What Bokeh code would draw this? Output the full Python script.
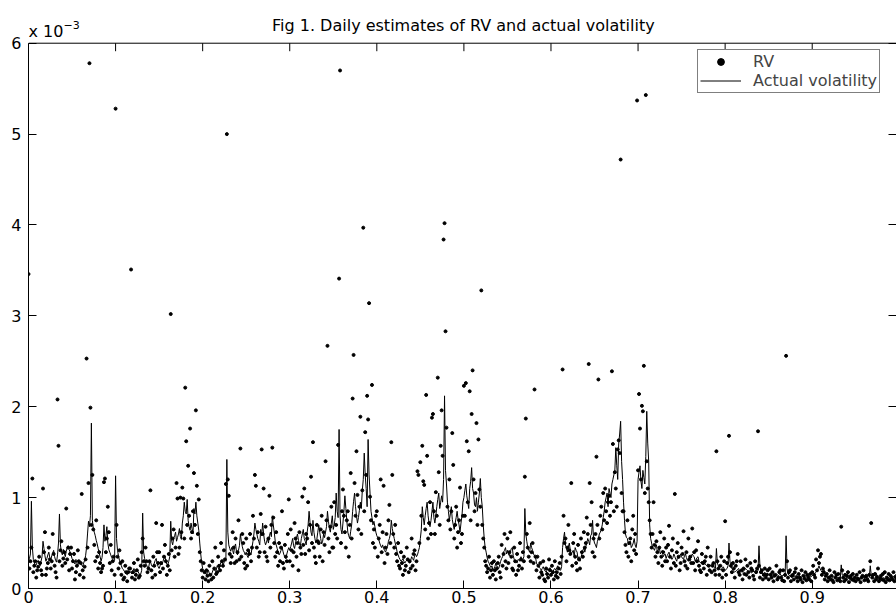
from bokeh.plotting import figure
from bokeh.models import (Range1d, LinearAxis, FixedTicker, Legend, Label, Span,
                          LegendItem, CustomJSTickFormatter)
from bokeh.embed import file_html
from bokeh.resources import INLINE

FONT = "DejaVu Sans"

# ---- data (values in units of 1e-3), one value per trading day ----
n_days = 900

actual_volatility = [
    .30,.33,.38,.96,.45,.32,.28,.25,.26,.29,.31,.27,.25,.30,.35,
    .52,.44,.36,.30,.33,.37,.40,.34,.31,.36,.39,.42,.35,.31,.29,
    .37,.50,.82,.48,.40,.37,.43,.39,.35,.41,.45,.47,.43,.40,.37,
    .33,.31,.29,.27,.32,.28,.25,.30,.27,.29,.26,.24,.28,.31,.36,
    .45,.60,.74,.68,.80,1.82,.75,.66,.62,.58,.53,.49,.44,.39,.35,
    .30,.34,.45,.70,.52,.58,.68,.50,.43,.40,.37,.34,.32,.30,.31,
    1.24,.55,.42,.36,.31,.28,.25,.22,.21,.19,.18,.16,.15,.17,.18,
    .19,.17,.16,.20,.22,.19,.18,.21,.19,.17,.15,.16,.20,.83,.40,
    .33,.28,.26,.23,.22,.28,.30,.26,.24,.25,.28,.31,.33,.27,.24,
    .22,.25,.28,.26,.30,.33,.36,.29,.27,.26,.30,.35,.74,.52,.48,
    .55,.58,.62,.52,.56,.60,.66,.57,.54,.72,.80,.95,.85,.82,.98,
    .75,.68,.64,.72,.66,.60,.88,.82,.95,.80,.72,.64,.50,.38,.28,
    .22,.20,.19,.17,.15,.18,.20,.16,.14,.15,.18,.21,.22,.19,.20,
    .25,.23,.21,.26,.29,.31,.26,.28,.33,.30,1.42,.62,.48,.44,.41,
    .45,.42,.38,.46,.49,.40,.37,.42,.47,.60,.52,.46,.42,.40,.37,
    .40,.36,.34,.42,.39,.37,.45,.52,.60,.72,.65,.60,.55,.52,.48,
    .65,.58,.72,.60,.52,.48,.51,.55,.50,.58,.62,.57,.80,.70,.62,
    .52,.48,.44,.40,.37,.39,.42,.46,.41,.37,.35,.33,.38,.42,.45,
    .42,.46,.50,.55,.47,.44,.50,.56,.60,.53,.49,.47,.55,.60,.65,
    .55,.52,.48,.62,.70,.85,.72,.62,.58,.75,.62,.55,.50,.54,.62,
    .70,.62,.55,.49,.52,.60,.56,.62,.68,.85,.74,.66,.62,.72,.80,
    .65,.70,.78,1.05,.85,.78,1.75,.80,.65,.60,.72,.85,1.02,.88,.75,
    .62,.58,.55,.63,.70,.85,.96,1.05,.90,.80,.72,.78,.86,.95,.88,
    1.08,1.20,1.49,1.25,1.10,.90,1.64,1.25,1.05,.85,.78,.70,.74,.68,.62,
    .58,.56,.54,.50,.47,.45,.48,.44,.42,.40,.43,.46,.52,.55,.60,
    .75,.66,.60,.55,.50,.46,.40,.37,.34,.32,.30,.31,.33,.30,.28,
    .30,.31,.33,.29,.28,.31,.35,.33,.31,.36,.38,.35,.37,.41,.45,
    .55,.65,.90,.78,.70,.80,.88,.95,.80,.72,.68,.75,.85,.95,.78,
    .72,.80,.90,.98,1.05,.88,.95,1.02,.95,1.20,2.12,1.30,1.15,.95,.85,
    .75,.82,.90,.76,.70,.65,.72,.78,.85,.76,.70,.62,.72,.80,.95,
    1.00,1.08,1.15,1.02,.95,.88,1.10,1.18,1.33,1.10,1.05,.92,.90,1.00,.85,
    .95,1.05,1.21,1.00,.90,.70,.55,.45,.40,.34,.30,.28,.25,.23,.25,
    .20,.22,.24,.28,.25,.23,.22,.26,.30,.33,.35,.40,.42,.45,.38,
    .42,.38,.36,.40,.44,.45,.36,.32,.30,.29,.28,.32,.31,.30,.35,
    .30,.32,.35,.88,.60,.52,.45,.42,.40,.50,.45,.42,.38,.36,.35,
    .28,.26,.25,.23,.22,.20,.22,.24,.21,.19,.18,.20,.22,.20,.23,
    .20,.19,.18,.21,.22,.20,.23,.25,.22,.21,.20,.24,.45,.55,.62,
    .48,.44,.40,.46,.50,.42,.38,.40,.42,.35,.45,.42,.40,.32,.35,
    .30,.34,.38,.42,.45,.40,.46,.50,.55,.52,.48,.58,.60,.75,.55,
    .50,.48,.45,.52,.55,.60,.62,.65,.70,.78,.85,.95,1.00,1.05,.90,
    1.10,1.05,1.00,1.15,1.20,1.25,1.30,1.55,1.35,1.20,1.59,1.70,1.84,1.40,1.20,
    .95,.75,.60,.56,.55,.48,.50,.52,.45,.47,.50,.55,.48,.45,.52,
    1.20,1.28,1.35,1.18,1.10,1.30,1.22,1.15,1.45,1.95,1.60,1.40,.70,.55,.50,
    .45,.44,.42,.46,.48,.40,.42,.45,.38,.40,.42,.35,.37,.38,.33,
    .36,.38,.40,.36,.35,.32,.34,.38,.35,.32,.30,.36,.33,.35,.38,
    .35,.33,.32,.36,.38,.34,.31,.30,.36,.33,.35,.38,.36,.35,.30,
    .32,.34,.35,.30,.29,.28,.30,.27,.26,.28,.26,.25,.27,.26,.24,
    .26,.27,.28,.25,.23,.22,.44,.28,.25,.22,.21,.20,.23,.24,.22,
    .20,.21,.22,.25,.50,.30,.24,.22,.20,.19,.18,.19,.20,.21,.22,
    .19,.20,.21,.18,.19,.20,.22,.21,.20,.18,.19,.20,.17,.18,.19,
    .18,.19,.20,.18,.20,.47,.24,.20,.18,.16,.17,.18,.16,.15,.17,
    .15,.16,.17,.14,.15,.16,.15,.13,.14,.15,.14,.15,.16,.14,.14,
    .15,.14,.13,.58,.22,.16,.15,.14,.13,.12,.13,.14,.13,.14,.15,
    .12,.13,.14,.13,.12,.15,.13,.12,.14,.13,.12,.12,.14,.13,.13,
    .14,.15,.16,.17,.18,.20,.22,.25,.22,.20,.18,.20,.22,.16,.14,
    .13,.12,.13,.14,.12,.11,.12,.13,.12,.13,.14,.12,.11,.12,.11,
    .26,.15,.14,.12,.11,.12,.13,.12,.11,.10,.11,.12,.11,.12,.13,
    .12,.11,.12,.10,.11,.12,.11,.13,.12,.11,.10,.11,.12,.11,.12,
    .25,.15,.13,.12,.11,.12,.13,.10,.11,.12,.11,.13,.12,.11,.12,
    .10,.11,.12,.13,.12,.11,.10,.11,.12,.13,.12,.11,.12,.11,.12,
]

rv = [
    3.46,.22,.30,.45,1.21,.18,.25,.30,.12,.20,.24,.35,.28,.20,.15,
    1.10,.40,.62,.15,.22,.28,.45,.32,.22,.30,.60,.38,.25,.18,.12,
    2.08,1.57,.30,.42,.52,.25,.33,.40,.28,.88,.32,.45,.20,.38,.45,
    .22,.30,.38,.10,.18,.25,.42,.30,.15,.28,1.04,.20,.12,.24,.32,
    2.53,.45,1.16,5.78,1.99,.70,1.25,.65,.48,.30,.75,.35,.22,.40,.28,
    .18,.22,.25,1.17,1.21,.40,.55,.90,.62,.28,.48,.20,.30,.35,.15,
    5.28,.70,.35,.22,.42,.28,.15,.30,.10,.12,.25,.18,.08,.18,.22,
    .22,3.51,.12,.18,.28,.10,.15,.20,.32,.12,.14,.25,.40,.55,.30,
    .25,.45,.30,.18,.22,.30,1.08,.20,.12,.35,.25,.15,.72,.40,.28,
    .40,.18,.28,.70,.22,.35,.48,.30,.15,.25,.38,.20,3.02,.42,.55,
    .65,.35,.45,1.16,.99,.38,.45,1.00,.62,1.11,.99,.55,2.21,1.62,.70,
    1.35,.80,1.76,.55,.62,.85,1.27,.70,1.96,1.13,.60,.98,.40,.30,.20,
    .12,.28,.18,.10,.20,.14,.08,.25,.15,.10,.30,.12,.22,.45,.16,
    .18,.35,.25,.20,.50,.30,.25,.42,.32,1.15,5.00,1.20,1.02,.38,.28,
    .35,.62,.45,.28,.55,.30,.40,.75,.32,1.54,.35,.60,.50,.28,.22,
    .55,.25,.42,.38,.60,.30,.45,.80,.55,1.25,1.13,.45,.62,.35,.40,
    .82,1.53,.60,1.10,.40,.68,.35,.30,.55,1.02,.45,.70,1.55,.78,.50,
    .35,.62,.40,.25,.50,.30,.45,.85,.28,.22,.48,.35,.30,.60,.98,
    .30,.65,.42,.25,.40,.72,.55,.35,.50,.20,.62,.45,.38,1.01,.48,
    1.10,.38,.60,.55,.95,.42,.70,1.23,.50,1.61,.45,.35,.28,.70,.52,
    .50,.35,.65,.80,.30,.62,.48,1.40,.75,2.67,.55,.40,.68,.90,.45,
    .45,.95,.60,.70,.55,1.58,3.41,5.70,.50,.85,1.09,.80,.62,.45,.75,
    .85,.35,.70,1.27,.55,2.09,2.57,1.16,.80,1.51,1.03,.65,.90,1.89,.60,
    1.08,3.97,.85,1.72,1.25,2.12,1.86,3.14,1.01,.75,2.24,.50,.65,.45,.80,
    .85,.35,.55,.70,1.20,.40,.62,1.13,.28,.45,.60,.38,.75,.92,.50,
    1.61,1.25,.60,.45,.70,.38,.30,.50,.25,.22,.40,.28,.15,.35,.20,
    .25,.45,.32,.18,.30,.22,.55,.25,.38,.42,.20,.30,1.29,1.25,.50,
    1.39,.80,1.57,1.18,1.14,.65,2.13,1.46,.55,.72,.95,.60,1.88,1.92,.85,
    .60,1.06,.80,2.32,1.28,.70,1.57,1.96,1.46,3.84,4.02,2.83,1.77,.90,.75,
    1.20,.65,.85,1.71,1.36,.55,.70,.90,.45,.62,.75,1.11,.50,.60,.80,
    2.23,.80,2.26,1.62,.95,1.51,2.17,.75,1.92,2.40,1.20,.85,1.05,1.82,.70,
    1.64,1.09,.90,3.28,.70,.55,.45,.30,.25,.18,.22,.35,.12,.20,.28,
    .15,.30,.20,.10,.22,.28,.35,.18,.12,.48,.25,.38,.60,.30,.22,
    .55,.28,.40,.62,.35,.22,.20,.45,.30,.15,.38,.20,.25,.50,.32,
    .22,.40,.30,1.23,1.87,.60,.45,.35,.72,.30,.40,.50,.28,2.19,.35,
    .20,.35,.25,.12,.28,.18,.15,.30,.10,.08,.22,.16,.12,.32,.20,
    .15,.25,.18,.10,.30,.14,.18,.12,.22,.28,.16,.35,2.41,.80,.50,
    .55,.30,.45,.70,.42,.38,1.16,.25,.50,.60,.35,.28,.20,.48,.32,
    .22,.55,.40,.35,.62,.45,.50,.78,.60,2.47,1.16,.70,.95,.40,.55,
    .35,.60,1.45,.70,2.30,.55,.80,.90,.65,1.05,.75,1.10,.85,.72,.95,
    1.02,.80,.95,2.39,1.59,.85,1.28,1.10,.90,1.53,1.63,1.49,4.72,1.05,.85,
    .85,.62,.48,.40,.75,.35,.50,.55,.30,.65,.80,.42,.60,.38,5.37,
    1.30,2.14,1.76,1.20,2.01,1.95,2.45,1.05,5.43,1.40,1.10,.95,.75,.60,.45,
    .60,.95,.48,.35,.52,.40,.28,.45,.62,.35,.25,.40,.55,.30,.45,
    .30,.48,.69,.35,.22,.42,.55,.28,1.04,.25,.40,.50,.35,.20,.28,
    .45,.38,.63,.30,.25,.40,.22,.55,.32,.35,.28,.66,.28,.40,.20,
    .42,.30,.52,.25,.20,.18,.38,.28,.22,.30,.35,.15,.45,.25,.20,
    .35,.18,.25,.28,.20,.15,1.51,.30,.22,.15,.25,.35,.12,.20,.30,
    .74,.15,.28,.35,1.68,.40,.25,.18,.28,.22,.12,.25,.30,.38,.18,
    .15,.30,.20,.10,.22,.16,.32,.15,.25,.18,.12,.28,.22,.20,.14,
    .10,.30,.18,.22,1.73,.25,.12,.18,.20,.10,.15,.22,.12,.15,.20,
    .10,.22,.15,.12,.18,.08,.14,.15,.25,.10,.12,.18,.20,.12,.09,
    .20,.08,.15,2.56,.30,.12,.18,.20,.08,.14,.15,.10,.18,.22,.12,
    .08,.16,.12,.10,.20,.07,.14,.11,.18,.09,.15,.12,.10,.16,.08,
    .18,.25,.15,.12,.32,.20,.42,.28,.35,.38,.15,.22,.18,.10,.14,
    .16,.08,.12,.20,.10,.14,.09,.07,.18,.12,.15,.09,.16,.11,.08,
    .68,.20,.12,.08,.15,.10,.14,.18,.07,.12,.14,.10,.16,.09,.12,
    .08,.15,.11,.10,.18,.07,.12,.14,.20,.09,.13,.14,.10,.08,.15,
    .30,.72,.12,.15,.08,.16,.10,.13,.22,.08,.11,.14,.10,.16,.09,
    .18,.07,.12,.10,.16,.09,.14,.12,.10,.18,.08,.13,.11,.15,.09,
]

x_ticks = [0, 0.1, 0.2, 0.3, 0.4, 0.5, 0.6, 0.7, 0.8, 0.9]
x_tick_labels = ["0", "0.1", "0.2", "0.3", "0.4", "0.5", "0.6", "0.7", "0.8", "0.9"]
y_ticks = [0, 1, 2, 3, 4, 5, 6]
y_tick_labels = ["0", "1", "2", "3", "4", "5", "6"]

title_text = "Fig 1. Daily estimates of RV and actual volatility"
scale_text = "x 10"
scale_exp = "\u22123"

line_days = [i / n_days for i in range(len(actual_volatility))]
rv_days = [i / n_days for i in range(len(rv))]

# ---- geometry (pixels) ----
W, H = 896, 609
LEFT, BOTTOM = 28, 21
Y_TOP = 6            # top of the axes box (data units)
Y_END = 6.47         # frame extends above the box to hold the title
X_END = 0.9968
frame_h = H - BOTTOM
px_y = frame_h / Y_END          # pixels per data unit (y)
px_x = (W - LEFT) / X_END       # pixels per data unit (x)
TICK = 8


def up(px):
    return Y_TOP + px / px_y


p = figure(width=W, height=H, x_range=Range1d(0, X_END), y_range=Range1d(0, Y_END),
           output_backend="svg", toolbar_location=None, title=None,
           min_border_left=LEFT, min_border_right=0, min_border_top=0,
           min_border_bottom=BOTTOM,
           background_fill_color="white", border_fill_color="white")
p.xgrid.visible = False
p.ygrid.visible = False
p.outline_line_color = None


def style(ax, size="16px", standoff=3):
    ax.axis_line_color = "black"
    ax.axis_line_width = 1
    ax.major_tick_line_color = "black"
    ax.major_tick_in = TICK
    ax.major_tick_out = 0
    ax.minor_tick_line_color = None
    ax.major_label_text_font = FONT
    ax.major_label_text_font_size = size
    ax.major_label_text_color = "black"
    ax.major_label_standoff = standoff


xa = p.xaxis[0]
xa.ticker = FixedTicker(ticks=x_ticks)
xa.major_label_overrides = dict(zip(x_ticks, x_tick_labels))
style(xa, standoff=2)
ya = p.yaxis[0]
ya.ticker = FixedTicker(ticks=y_ticks)
ya.major_label_overrides = dict(zip(y_ticks, y_tick_labels))
ya.bounds = (0, Y_TOP)
style(ya, standoff=7)

blank = CustomJSTickFormatter(code="return ''")
right = LinearAxis(ticker=FixedTicker(ticks=y_ticks), formatter=blank, bounds=(0, Y_TOP))
style(right, size="1px", standoff=0)
p.add_layout(right, "right")

# top edge of the axes box and its inward ticks
p.add_layout(Span(location=Y_TOP, dimension="width", line_color="black", line_width=1))
p.segment(x0=x_ticks, y0=[Y_TOP] * len(x_ticks), x1=x_ticks,
          y1=[Y_TOP - TICK / px_y] * len(x_ticks), line_color="black", line_width=1)

ln = p.line(line_days, actual_volatility, line_color="black", line_width=1)
dots = p.scatter(rv_days, rv, size=3.0, fill_color="black", line_color="black")

# title and exponent label
p.add_layout(Label(x=0.4994, y=up(17.5), text=title_text, text_align="center",
                   text_baseline="alphabetic", text_font=FONT, text_font_size="16px",
                   text_color="black"))
p.add_layout(Label(x=0, y=up(12.0), text=scale_text, text_align="left",
                   text_baseline="alphabetic", text_font=FONT, text_font_size="16px",
                   text_color="black"))
p.add_layout(Label(x=35 / px_x, y=up(18.0), text=scale_exp, text_align="left",
                   text_baseline="alphabetic", text_font=FONT, text_font_size="11px",
                   text_color="black"))

legend = Legend(items=[LegendItem(label="RV", renderers=[dots]),
                       LegendItem(label="Actual volatility", renderers=[ln])],
                location=(669, 495), padding=2, spacing=0,
                glyph_width=41, glyph_height=17, label_height=17, label_standoff=12,
                label_text_font=FONT, label_text_font_size="16px",
                border_line_color="black", border_line_width=1,
                background_fill_color="white", background_fill_alpha=1)
p.add_layout(legend)

open("out.html", "w").write(file_html(p, INLINE))
